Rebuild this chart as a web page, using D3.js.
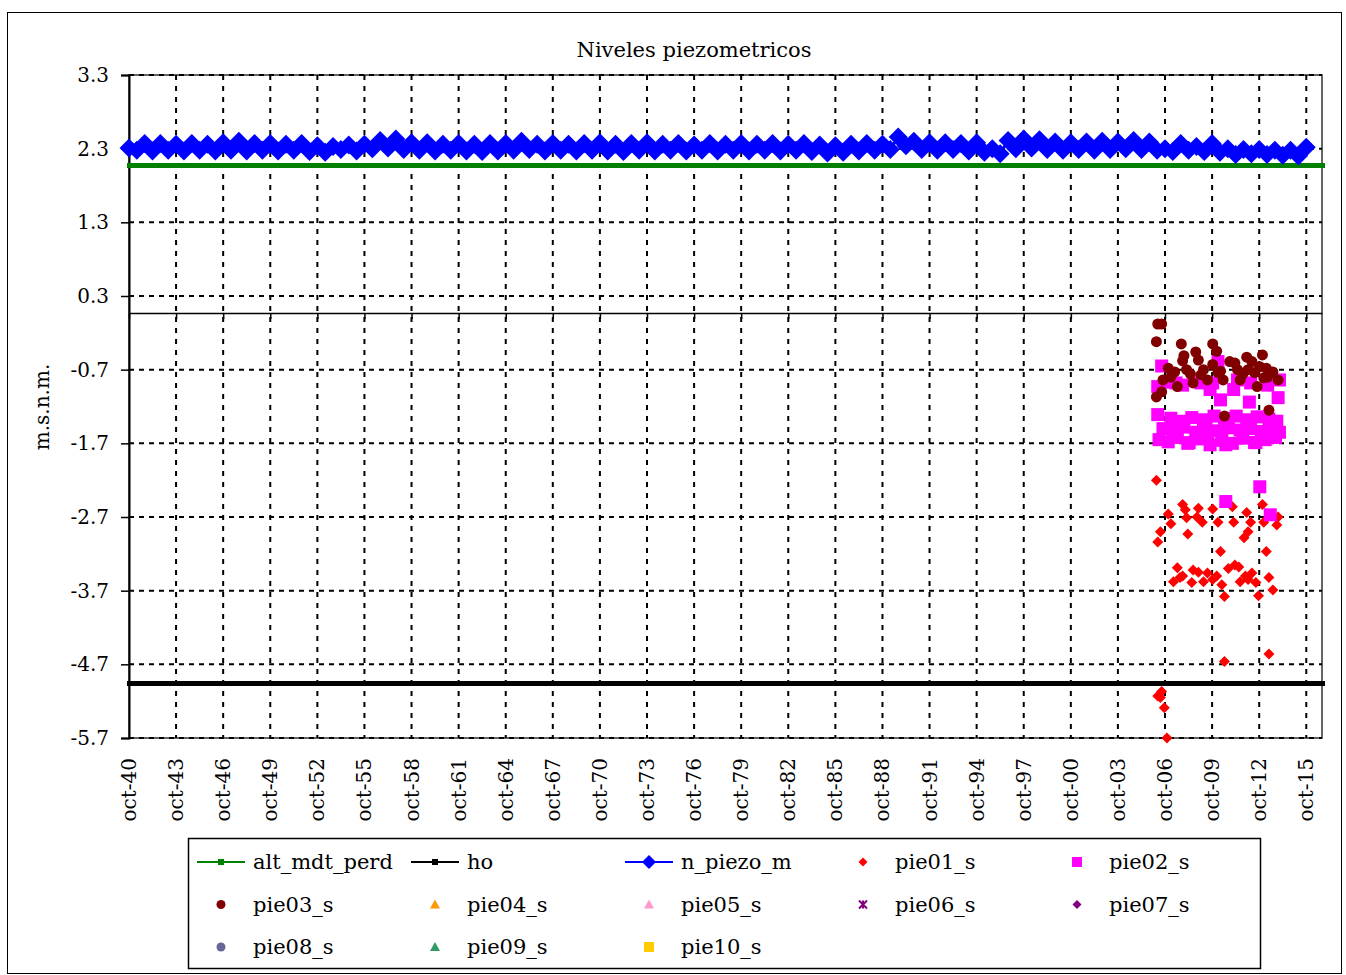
<!DOCTYPE html>
<html><head><meta charset="utf-8">
<script src="https://cdn.jsdelivr.net/npm/d3@7"></script>
<style>
body{margin:0;background:#fff}
svg{display:block}
text{font-family:"DejaVu Serif",serif;fill:#000}
</style>
</head><body>
<svg id="c" width="1346" height="975"></svg>
<script>
// ---------- DATA ----------
const title = "Niveles piezometricos";
const yLabel = "m.s.n.m.";
const yTicks = [3.3, 2.3, 1.3, 0.3, -0.7, -1.7, -2.7, -3.7, -4.7, -5.7];
const xDomain = ["1940-10-01", "2016-10-01"];
const xTickYears = [1940,1943,1946,1949,1952,1955,1958,1961,1964,1967,1970,1973,1976,1979,1982,1985,1988,1991,1994,1997,2000,2003,2006,2009,2012,2015];
const xAxisCross = 0.07;

const altMdtPerd = 2.07;
const hoLevel = -4.96;

// n_piezo_m: October readings 1940..2015 and April readings 1941..2015
const piezoOctStart = 1940;
const piezoOct = [2.31,2.37,2.37,2.36,2.37,2.36,2.38,2.40,2.37,2.37,2.36,2.37,2.34,2.33,2.35,2.36,2.41,2.43,2.38,2.38,
  2.36,2.37,2.36,2.37,2.37,2.40,2.36,2.37,2.36,2.37,2.38,2.36,2.37,2.38,2.36,2.37,2.35,2.37,2.36,2.37,
  2.36,2.37,2.36,2.37,2.35,2.34,2.36,2.37,2.36,2.46,2.40,2.38,2.38,2.37,2.38,2.30,2.41,2.43,2.42,2.39,
  2.38,2.39,2.40,2.39,2.41,2.39,2.30,2.37,2.33,2.37,2.30,2.29,2.29,2.28,2.28,2.32];
const piezoAprStart = 1941;
const piezoApr = [2.28,2.27,2.28,2.27,2.28,2.27,2.28,2.27,2.28,2.27,2.28,2.26,2.25,2.29,2.27,2.30,2.31,2.29,2.28,
  2.27,2.28,2.27,2.26,2.27,2.28,2.29,2.27,2.28,2.27,2.28,2.27,2.26,2.28,2.27,2.28,2.27,2.28,2.27,2.28,
  2.27,2.28,2.27,2.28,2.26,2.24,2.25,2.27,2.28,2.29,2.34,2.29,2.28,2.29,2.27,2.25,2.23,2.30,2.31,2.29,
  2.28,2.29,2.28,2.29,2.30,2.29,2.28,2.26,2.28,2.26,2.25,2.22,2.23,2.22,2.21,2.20];

const pie01 = [["2006-03",-2.20],["2006-12",-2.66],["2007-02",-2.79],["2006-06",-2.90],["2006-04",-3.04],
  ["2007-11",-2.53],["2008-01",-2.60],["2008-02",-2.71],["2008-03",-2.93],["2008-11",-2.58],["2008-10",-2.70],
  ["2009-02",-2.77],["2009-10",-2.59],["2010-02",-2.77],["2011-01",-2.56],["2011-02",-2.77],["2011-12",-2.64],
  ["2012-03",-2.77],["2012-01",-2.90],["2011-10",-2.98],["2012-12",-2.53],["2013-01",-2.77],["2013-12",-2.70],
  ["2013-11",-2.81],["2010-04",-3.17],["2013-03",-3.17],["2007-07",-3.39],["2007-04",-3.58],["2008-07",-3.42],
  ["2008-06",-3.59],["2009-06",-3.46],["2009-03",-3.58],["2009-10",-3.55],["2010-05",-3.62],["2010-10",-3.40],
  ["2011-03",-3.35],["2011-06",-3.38],["2011-07",-3.58],["2012-04",-3.46],["2012-07",-3.59],["2012-09",-3.77],
  ["2010-07",-3.78],["2013-05",-3.52],["2013-08",-3.69],["2007-11",-3.50],["2008-11",-3.45],["2011-11",-3.50],
  ["2010-01",-3.50],["2007-09",-3.52],["2012-01",-3.55],["2010-07",-4.66],["2013-05",-4.56],["2006-04",-5.13],
  ["2006-07",-5.07],["2006-06",-5.15],["2006-09",-5.29],["2006-11",-5.70]];

const pie02 = [["2006-07",-0.65],["2006-04",-0.93],["2006-11",-0.87],["2007-11",-0.91],["2009-01",-0.88],
  ["2009-10",-0.88],["2010-02",-0.59],["2010-04",-1.11],["2011-02",-0.97],["2012-02",-1.14],["2013-04",-0.91],
  ["2013-12",-1.08],["2014-01",-0.84],["2007-06",-0.88],["2009-08",-0.97],["2012-03",-0.88],["2011-05",-0.84],
  ["2006-04",-1.31],["2007-02",-1.36],["2007-09",-1.40],["2008-06",-1.35],["2009-03",-1.38],["2009-11",-1.33],
  ["2010-07",-1.36],["2011-04",-1.33],["2011-12",-1.38],["2012-08",-1.34],["2013-05",-1.37],["2013-11",-1.40],
  ["2006-08",-1.50],["2007-04",-1.52],["2007-12",-1.48],["2008-09",-1.55],["2009-05",-1.50],["2010-01",-1.53],
  ["2010-10",-1.49],["2011-07",-1.52],["2012-03",-1.50],["2012-11",-1.54],["2013-08",-1.48],["2014-01",-1.55],
  ["2006-05",-1.65],["2006-12",-1.68],["2007-07",-1.62],["2008-03",-1.70],["2008-12",-1.64],["2009-08",-1.72],
  ["2010-05",-1.66],["2011-01",-1.70],["2011-09",-1.63],["2012-06",-1.69],["2013-02",-1.65],["2013-10",-1.62],
  ["2008-04",-1.69],["2009-06",-1.63],["2010-08",-1.72],["2012-07",-1.69],
  ["2010-08",-2.49],["2012-10",-2.29],["2013-06",-2.67]];

const pie03 = [["2006-03",-0.32],["2006-04",-0.08],["2006-07",-0.08],["2006-03",-1.07],["2006-07",-1.00],
  ["2006-08",-0.84],["2006-12",-0.68],["2007-05",-0.73],["2007-07",-0.93],["2007-10",-0.35],["2007-11",-0.58],
  ["2007-12",-0.51],["2008-02",-0.70],["2008-07",-0.88],["2008-09",-0.46],["2008-11",-0.57],["2009-01",-0.77],
  ["2009-06",-0.84],["2009-10",-0.35],["2009-10",-0.63],["2010-01",-0.45],["2010-02",-0.74],["2010-06",-0.84],
  ["2010-07",-1.33],["2010-11",-0.59],["2011-03",-0.61],["2011-07",-0.84],["2011-12",-0.53],["2012-01",-0.70],
  ["2012-04",-0.59],["2012-08",-0.93],["2012-10",-0.66],["2012-12",-0.50],["2013-01",-0.81],["2013-04",-0.80],
  ["2013-05",-1.25],["2013-08",-0.73],["2013-12",-0.84],["2007-02",-0.80],["2008-05",-0.76],["2009-03",-0.70],
  ["2010-04",-0.72],["2011-05",-0.70],["2011-09",-0.76],["2012-06",-0.74],["2013-03",-0.68]];

const pie04 = [], pie05 = [], pie06 = [], pie07 = [], pie08 = [], pie09 = [], pie10 = [];

const legendNames = ["alt_mdt_perd","ho","n_piezo_m","pie01_s","pie02_s","pie03_s","pie04_s","pie05_s","pie06_s","pie07_s","pie08_s","pie09_s","pie10_s"];
const legendColors = ["#008000","#000000","#0000FF","#FF0000","#FF00FF","#800000","#FF9900","#FF99CC","#800080","#800080","#666699","#339966","#FFCC00"];
const legendShapes = ["line-square","line-square","line-diamond","diamond","square","circle","triangle","triangle","star","diamond","circle","triangle","square"];

// ---------- CHART ----------
const svg = d3.select("#c");
const P = {l:129, r:1322, t:75, b:738};
const parseM = d3.timeParse("%Y-%m");
const midMonth = s => { const d = parseM(s); d.setDate(15); return d; };

const x = d3.scaleTime().domain(xDomain.map(d => new Date(d))).range([P.l, P.r]);
const y = d3.scaleLinear().domain([-5.7, 3.3]).range([P.b, P.t]);

// outer frame
svg.append("rect").attr("x",7.5).attr("y",12.5).attr("width",1334).attr("height",961)
  .attr("fill","none").attr("stroke","#000").attr("stroke-width",1);

svg.append("text").attr("x",694).attr("y",57).attr("text-anchor","middle")
  .style("font-size","21px").text(title);

// plot area border
svg.append("rect").attr("x",P.l).attr("y",P.t).attr("width",P.r-P.l).attr("height",P.b-P.t)
  .attr("fill","none").attr("stroke","#333").attr("stroke-width",1.5);

const xTickDates = xTickYears.map(yr => new Date(yr, 9, 1));

// horizontal grid
svg.append("g").selectAll("line").data(yTicks).join("line")
  .attr("x1",P.l).attr("x2",P.r).attr("y1",d=>y(d)).attr("y2",d=>y(d))
  .attr("stroke","#000").attr("stroke-width",2).attr("stroke-dasharray","5,5");
// vertical grid
svg.append("g").selectAll("line").data(xTickDates.slice(1)).join("line")
  .attr("x1",d=>x(d)).attr("x2",d=>x(d)).attr("y1",P.t).attr("y2",P.b)
  .attr("stroke","#000").attr("stroke-width",2).attr("stroke-dasharray","5,6");

// y axis
const yAxis = svg.append("g").attr("transform",`translate(${P.l},0)`)
  .call(d3.axisLeft(y).tickValues(yTicks).tickFormat(d=>d.toFixed(1)).tickSize(8).tickPadding(12));
yAxis.select(".domain").attr("stroke","#000").attr("stroke-width",2);
yAxis.selectAll(".tick line").attr("stroke","#000").attr("stroke-width",1.5);
yAxis.selectAll("text").style("font-size","20px").attr("font-family","DejaVu Serif");

svg.append("text").attr("transform",`translate(49,407) rotate(-90)`).attr("text-anchor","middle")
  .style("font-size","20px").text(yLabel);

// x axis line at crossing value
const xAxis = svg.append("g").attr("transform",`translate(0,${y(xAxisCross)})`)
  .call(d3.axisBottom(x).tickValues(xTickDates).tickFormat("").tickSize(6).tickSizeOuter(0));
xAxis.select(".domain").attr("stroke","#000").attr("stroke-width",1.5);
xAxis.selectAll(".tick line").attr("stroke","#000").attr("stroke-width",1.5);

// x tick labels at the bottom
const fmtX = d => "oct-" + String(d.getFullYear()).slice(2);
svg.append("g").selectAll("text").data(xTickDates).join("text")
  .attr("transform",d=>`translate(${x(d)},758) rotate(-90)`)
  .attr("text-anchor","end").attr("dy","0.35em")
  .style("font-size","20px").text(fmtX);

// symbol helpers
function shapePath(shape, s){
  switch(shape){
    case "diamond": return `M0,${-s}L${s},0L0,${s}L${-s},0Z`;
    case "square": return `M${-s},${-s}H${s}V${s}H${-s}Z`;
    case "triangle": return `M0,${-s}L${s},${s*0.8}L${-s},${s*0.8}Z`;
    case "circle": return d3.arc()({innerRadius:0,outerRadius:s,startAngle:0,endAngle:2*Math.PI});
    case "star": return `M${-s},${-s}L${s},${s}M${s},${-s}L${-s},${s}M0,${-s}V${s}`;
  }
}

const plot = svg.append("g");

// alt_mdt_perd & ho lines
const xd = x.domain();
plot.append("line").attr("x1",x(xd[0])-2).attr("x2",x(xd[1])+3).attr("y1",y(altMdtPerd)).attr("y2",y(altMdtPerd))
  .attr("stroke","#008000").attr("stroke-width",5);
plot.append("line").attr("x1",x(xd[0])-2).attr("x2",x(xd[1])+3).attr("y1",y(hoLevel)).attr("y2",y(hoLevel))
  .attr("stroke","#000").attr("stroke-width",5);

// n_piezo_m
const piezo = [];
piezoOct.forEach((v,i)=>piezo.push({d:new Date(piezoOctStart+i,9,1), v}));
piezoApr.forEach((v,i)=>piezo.push({d:new Date(piezoAprStart+i,3,1), v}));
piezo.sort((a,b)=>a.d-b.d);
plot.append("path").datum(piezo)
  .attr("d", d3.line().x(p=>x(p.d)).y(p=>y(p.v)))
  .attr("fill","none").attr("stroke","#0000FF").attr("stroke-width",3);
plot.append("g").selectAll("path").data(piezo).join("path")
  .attr("transform",p=>`translate(${x(p.d)},${y(p.v)})`)
  .attr("d",shapePath("diamond",9.5)).attr("fill","#0000FF");

// scatter series
function scatter(data, shape, size, color){
  const g = plot.append("g");
  g.selectAll("path").data(data).join("path")
    .attr("transform",p=>`translate(${x(midMonth(p[0]))},${y(p[1])})`)
    .attr("d",shapePath(shape,size))
    .attr("fill", shape==="star" ? "none" : color)
    .attr("stroke", shape==="star" ? color : "none");
}
scatter(pie01,"diamond",5.5,"#FF0000");
scatter(pie02,"square",6.5,"#FF00FF");
scatter(pie03,"circle",5.5,"#800000");
scatter(pie04,"triangle",5,"#FF9900");
scatter(pie05,"triangle",5,"#FF99CC");
scatter(pie06,"star",4,"#800080");
scatter(pie07,"diamond",5,"#800080");
scatter(pie08,"circle",5,"#666699");
scatter(pie09,"triangle",5,"#339966");
scatter(pie10,"square",5,"#FFCC00");

// ---------- LEGEND ----------
const L = {x:188, y:838, w:1072, h:130};
svg.append("rect").attr("x",L.x+0.5).attr("y",L.y+0.5).attr("width",L.w).attr("height",L.h)
  .attr("fill","#fff").attr("stroke","#000").attr("stroke-width",1.5);
const colW = 214, rowH = 42.5, col0 = 221, row0 = 862;
legendNames.forEach((name,i)=>{
  const cx = col0 + (i%5)*colW, cy = row0 + Math.floor(i/5)*rowH;
  const g = svg.append("g");
  const shp = legendShapes[i], col = legendColors[i];
  if (shp.startsWith("line")) {
    g.append("line").attr("x1",cx-24).attr("x2",cx+24).attr("y1",cy).attr("y2",cy)
      .attr("stroke",col).attr("stroke-width",2);
    const m = shp.split("-")[1];
    g.append("path").attr("transform",`translate(${cx},${cy})`)
      .attr("d",shapePath(m, m==="diamond"?7:3)).attr("fill",col);
  } else {
    const sz = {diamond:4.5,square:5,circle:4.5,triangle:5,star:4}[shp];
    g.append("path").attr("transform",`translate(${cx},${cy})`)
      .attr("d",shapePath(shp,sz))
      .attr("fill", shp==="star"?"none":col)
      .attr("stroke", shp==="star"?col:"none").attr("stroke-width",2);
  }
  g.append("text").attr("x",cx+32).attr("y",cy).attr("dy","0.35em")
    .style("font-size","21px").text(name);
});
</script>
</body></html>
